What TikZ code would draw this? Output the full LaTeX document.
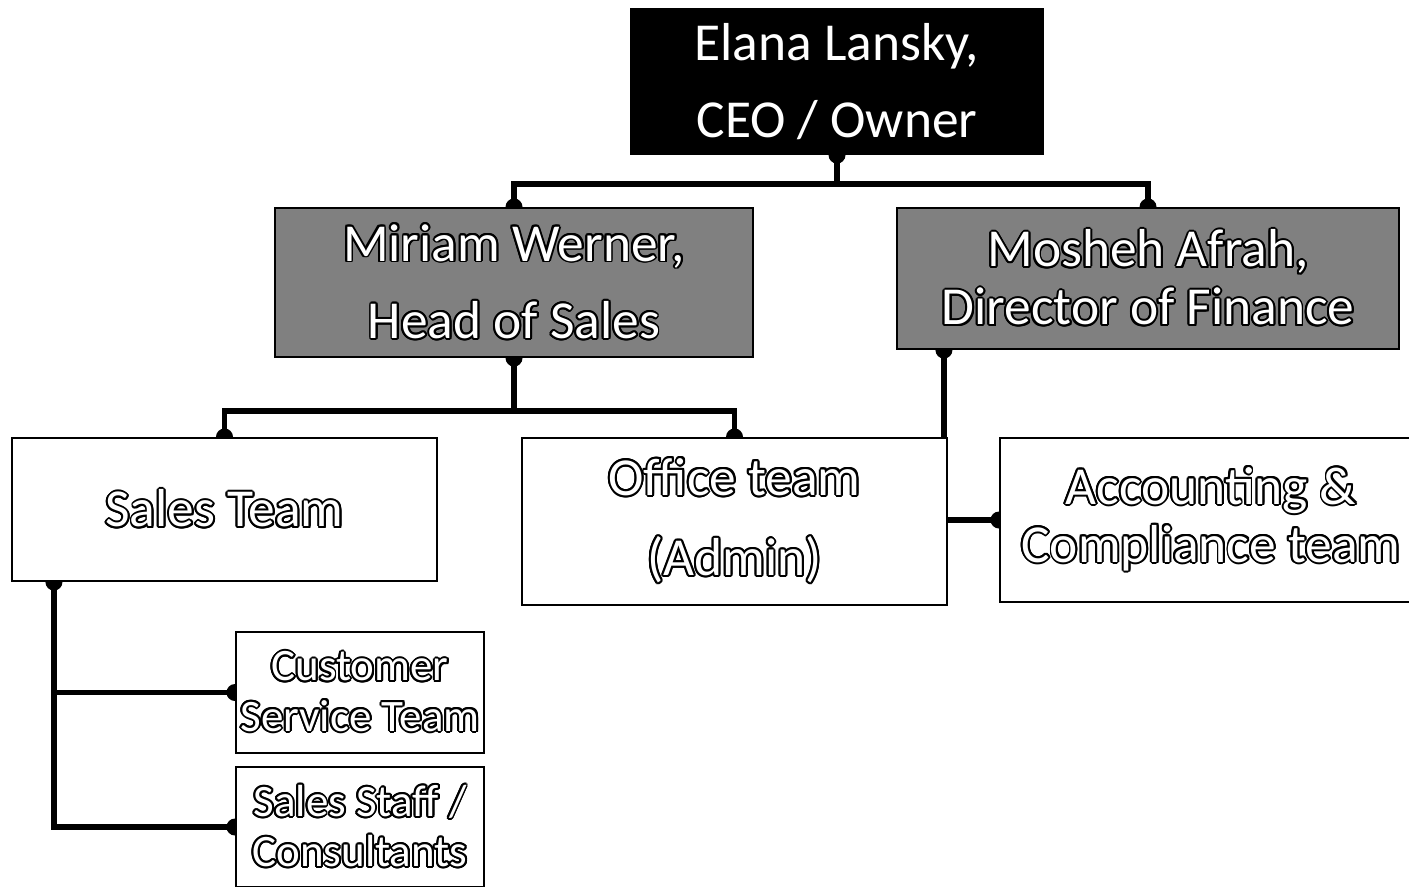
\documentclass[tikz,border=0pt]{standalone}
\usepackage{fontspec}
\setmainfont{Carlito}
\usepackage[copies]{contour}
\contourlength{0.55pt}
\usetikzlibrary{positioning}
\pgfdeclarelayer{bg}
\pgfsetlayers{bg,main}
\tikzset{box/.style={draw=black,line width=0.6pt,inner sep=0pt,align=center,font=\fontsize{15.2}{22}\selectfont}}
\tikzset{boss/.style={box,fill=black,text=white}}
\tikzset{head/.style={box,fill=black!50,text=white}}
\tikzset{team/.style={box,fill=white,text=white}}
\tikzset{small/.style={font=\fontsize{12.8}{14.3}\selectfont}}
\tikzset{conn/.style={line width=1.7pt}}
\newcommand{\outl}[1]{\contour{black}{#1}}

\begin{document}
\begin{tikzpicture}
\useasboundingbox (0,0) rectangle (14.09,-8.86);

\node[boss, minimum width=4.12cm, minimum height=1.45cm] (ceo) at (8.37,-0.815) {Elana Lansky,\\CEO / Owner};
\node[head, minimum width=4.78cm, minimum height=1.49cm] (miriam) at (5.14,-2.825) {\outl{Miriam Werner,}\\\outl{Head of Sales}};
\node[head, minimum width=5.02cm, minimum height=1.41cm, font=\fontsize{15.2}{16.5}\selectfont] (mosheh) at (11.48,-2.785) {\outl{Mosheh Afrah,}\\\outl{Director of Finance}};
\node[team, minimum width=4.25cm, minimum height=1.43cm] (sales) at (2.245,-5.095) {\outl{Sales Team}};
\node[team, minimum width=4.25cm, minimum height=1.67cm, font=\fontsize{15.2}{22.8}\selectfont] (office) at (7.345,-5.215) {\outl{Office team}\\\outl{(Admin)}};
\node[team, minimum width=4.22cm, minimum height=1.64cm, font=\fontsize{15.2}{16.5}\selectfont] (accounting) at (12.11,-5.20) {\outl{Accounting \&}\\\outl{Compliance team}};
\node[team, small, minimum width=2.48cm, minimum height=1.21cm] (customer) at (3.60,-6.925) {\outl{Customer}\\\outl{Service Team}};
\node[team, small, minimum width=2.48cm, minimum height=1.20cm] (salesstaff) at (3.60,-8.27) {\outl{Sales Staff /}\\\outl{Consultants}};

\coordinate (finout) at ([xshift=0.48cm]mosheh.south west);
\coordinate (salesout) at ([xshift=0.43cm]sales.south west);

\begin{pgfonlayer}{bg}
\draw[conn] (ceo.south) -- ++(0,-0.29) -| (miriam.north);
\draw[conn] (ceo.south) -- ++(0,-0.29) -| (mosheh.north);
\draw[conn] (miriam.south) -- ++(0,-0.53) -| (sales.north);
\draw[conn] (miriam.south) -- ++(0,-0.53) -| (office.north);
\draw[conn] (finout) |- (accounting.west);
\draw[conn] (salesout) |- (customer.west);
\draw[conn] (salesout) |- (salesstaff.west);
\foreach \p in {ceo.south, miriam.north, mosheh.north, miriam.south, sales.north, office.north, finout, accounting.west, salesout, customer.west, salesstaff.west}
  \fill (\p) circle (0.085);
\end{pgfonlayer}
\end{tikzpicture}
\end{document}
